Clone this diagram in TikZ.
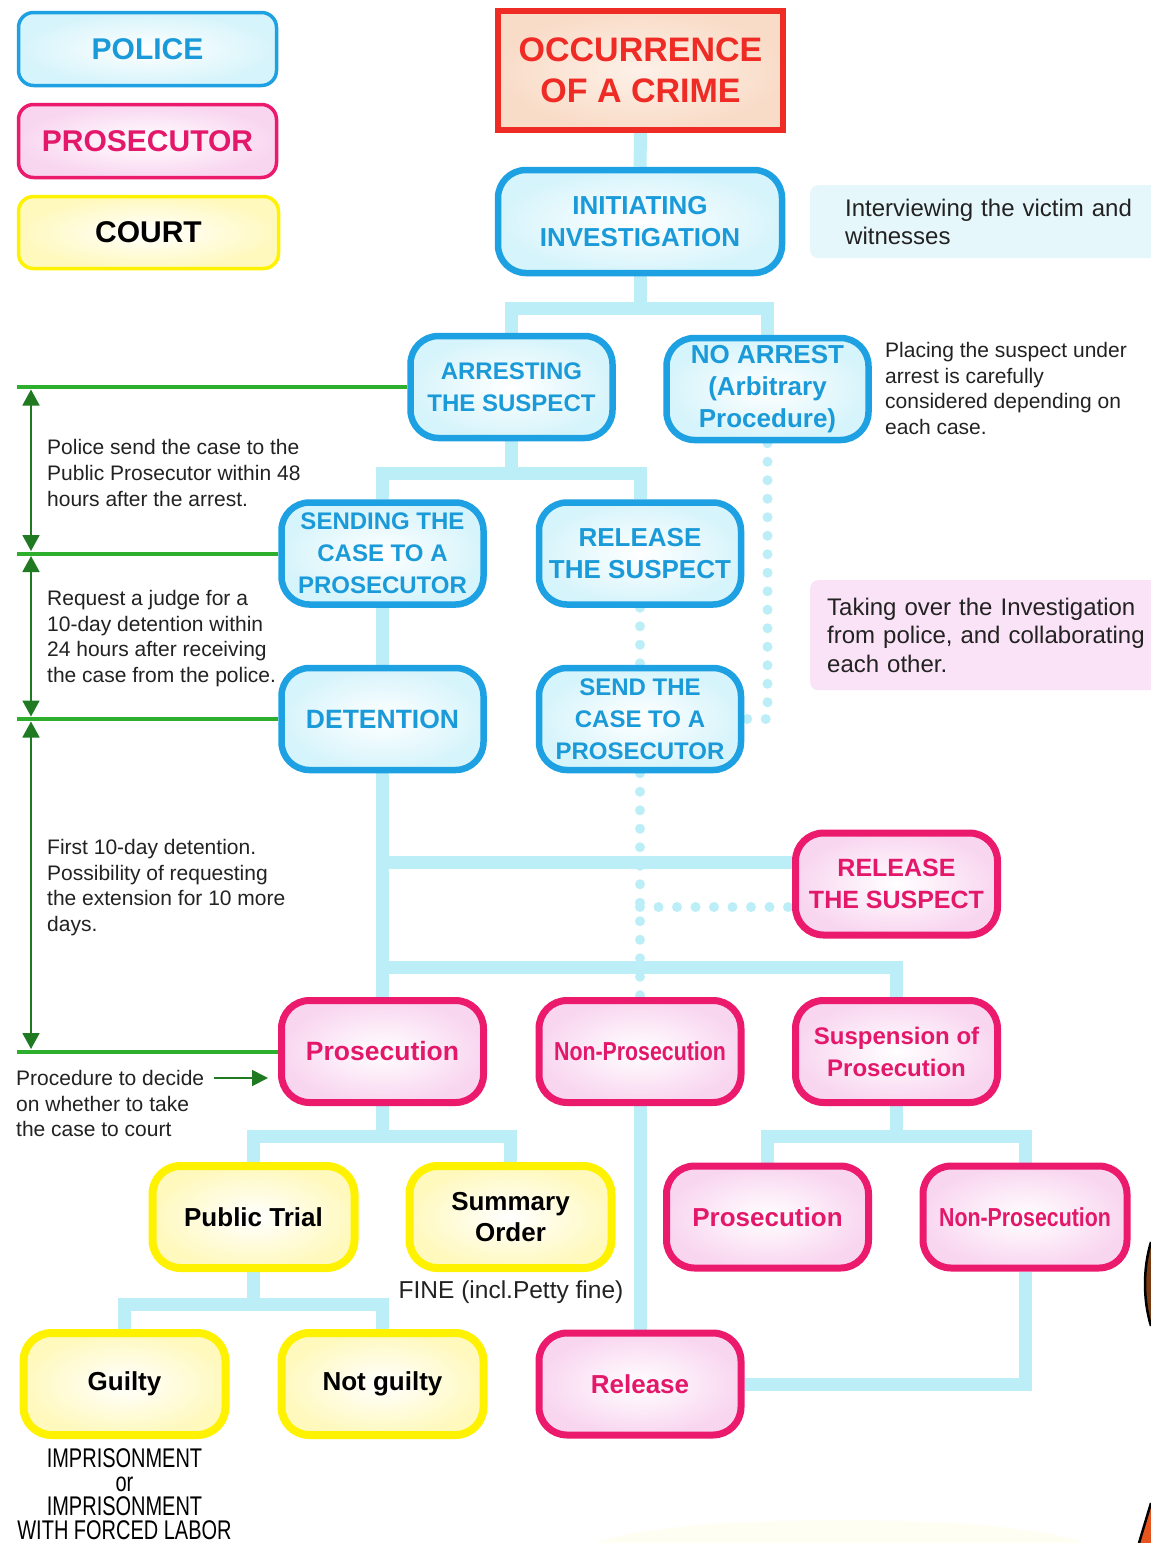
\documentclass[tikz,border=0pt]{standalone}
\usepackage{fontspec}
\setmainfont{Liberation Sans}
\newfontfamily\narrowfont[FakeStretch=0.74]{Liberation Sans}
\newfontfamily\semiNarrowfont[FakeStretch=0.82]{Liberation Sans}
\usetikzlibrary{arrows.meta,backgrounds}
\definecolor{polblue}{HTML}{1DA1E2}
\definecolor{poltext}{HTML}{1A9AD8}
\definecolor{polfill}{HTML}{D6F4FB}
\definecolor{prosborder}{HTML}{EC1A6C}
\definecolor{prostext}{HTML}{E3186B}
\definecolor{prosfill}{HTML}{F9D6F0}
\definecolor{courtborder}{HTML}{FFF200}
\definecolor{courtfill}{HTML}{FFF9BE}
\definecolor{linkcyan}{HTML}{BCEEF8}
\definecolor{barGreen}{HTML}{2DAF2D}
\definecolor{darkGreen}{HTML}{1F7A22}
\definecolor{crimered}{HTML}{EE2B24}
\definecolor{crimefill}{HTML}{F9DCC8}
\definecolor{crimeinner}{HTML}{FDF1E8}
\definecolor{notecyan}{HTML}{E6F7FC}
\definecolor{notepink}{HTML}{FBE3F7}
\definecolor{remarktext}{HTML}{222222}
\definecolor{edgefill}{HTML}{7A3A12}
\definecolor{edgeorange}{HTML}{E8541E}
\tikzset{
  box/.style={rectangle, rounded corners=28pt, minimum width=202pt, minimum height=102pt,
    inner sep=0pt, align=center, font=\fontsize{26}{32}\selectfont\bfseries},
  policebox/.style={box, draw=polblue, line width=6.5pt, inner color=white, outer color=polfill, text=poltext},
  prosbox/.style={box, draw=prosborder, line width=7pt, inner color=white, outer color=prosfill, text=prostext},
  courtbox/.style={box, draw=courtborder, line width=8pt, inner color=white, outer color=courtfill, text=black},
  legendbox/.style={rectangle, rounded corners=15pt, minimum width=258pt, minimum height=73pt,
    inner sep=0pt, line width=3.5pt, font=\fontsize{30}{36}\selectfont\bfseries},
  notebox/.style={rectangle, rounded corners=8pt, anchor=north west, inner ysep=0pt,
    align=left, font=\fontsize{24}{28.5}\selectfont, text=remarktext},
  link/.style={draw=linkcyan, line width=13pt},
  dotlink/.style={draw=linkcyan, line width=10pt, line cap=round, dash pattern=on 0pt off 18.5pt},
  greenbar/.style={draw=barGreen, line width=4pt},
  timespan/.style={draw=darkGreen, line width=1.8pt,
    {Triangle[width=17pt,length=16pt]}-{Triangle[width=17pt,length=16pt]},
    shorten <=2.5pt, shorten >=2.5pt},
  procarrow/.style={draw=darkGreen, line width=1.8pt, -{Triangle[width=16pt,length=16pt]}, shorten >=10pt},
  remark/.style={inner sep=0pt, anchor=north west, align=left,
    font=\fontsize{21}{25.6}\selectfont, text=remarktext},
}
\begin{document}
\begin{tikzpicture}[x=1pt,y=-1pt]
\useasboundingbox (0,0) rectangle (1151,1543);

% ---------- legend ----------
\node[legendbox, draw=polblue, inner color=white, outer color=polfill, text=poltext] (legpol) at (147.5,49) {POLICE};
\node[legendbox, draw=prosborder, inner color=white, outer color=prosfill, text=prostext] (legpros) at (147.5,141) {PROSECUTOR};
\node[legendbox, draw=courtborder, inner color=white, outer color=courtfill, text=black,
      minimum width=260pt, minimum height=72pt] (legcourt) at (148.5,232.5) {COURT};

% ---------- top ----------
\node[rectangle, draw=crimered, line width=6pt, inner color=crimeinner, outer color=crimefill,
      minimum width=285pt, minimum height=119pt, inner sep=0pt, align=center, text=crimered,
      font=\fontsize{34}{41}\selectfont\bfseries] (occ) at (640.5,70.5) {OCCURRENCE\\OF A CRIME};
\node[policebox, minimum width=284pt, minimum height=103pt] (init) at (640,221.5) {INITIATING\\INVESTIGATION};
\node[notebox, fill=notecyan, inner xsep=35pt, text width=320pt, minimum height=73pt] (intnote) at (810,185)
      {Interviewing the victim and\\witnesses};

% ---------- police stage ----------
\node[policebox, font=\fontsize{24}{32}\selectfont\bfseries] (arrest) at (511.5,387) {ARRESTING\\THE SUSPECT};
\node[policebox] (noarrest) at (767.5,389) {NO ARREST\\(Arbitrary\\Procedure)};
\node[remark] (placing) at (885,342) {Placing the suspect under\\arrest is carefully\\considered depending on\\each case.};

\node[policebox, font=\fontsize{24}{32}\selectfont\bfseries] (send1) at (382.5,553.5) {SENDING THE\\CASE TO A\\PROSECUTOR};
\node[policebox] (rel1) at (640,553.5) {RELEASE\\THE SUSPECT};
\node[policebox, font=\fontsize{26.5}{32}\selectfont\bfseries] (det) at (382.5,719) {DETENTION};
\node[policebox, font=\fontsize{24}{32}\selectfont\bfseries] (send2) at (640,719) {SEND THE\\CASE TO A\\PROSECUTOR};
\node[notebox, fill=notepink, inner xsep=17pt, text width=340pt, minimum height=110pt] (takenote) at (810,580)
      {Taking over the Investigation\\from police, and collaborating\\each other.};

% ---------- prosecutor stage ----------
\node[prosbox, font=\fontsize{25}{32}\selectfont\bfseries] (rel2) at (896.5,884) {RELEASE\\THE SUSPECT};
\node[prosbox, font=\fontsize{26.5}{32}\selectfont\bfseries] (pros) at (382.5,1051.5) {Prosecution};
\node[prosbox, font=\semiNarrowfont\fontsize{26}{32}\selectfont\bfseries] (nonpros) at (640,1051.5) {Non-Prosecution};
\node[prosbox, font=\fontsize{24}{32}\selectfont\bfseries] (susp) at (896.5,1051.5) {Suspension of\\Prosecution};

% ---------- court stage ----------
\node[courtbox] (trial) at (253.5,1217) {Public Trial};
\node[courtbox, font=\fontsize{26}{31}\selectfont\bfseries] (summ) at (510.5,1217) {Summary\\Order};
\node[font=\fontsize{24.5}{28}\selectfont, inner sep=0pt, text=remarktext] (fine) at (511,1292) {FINE (incl.Petty fine)};
\node[prosbox] (pros2) at (767.5,1217) {Prosecution};
\node[prosbox, font=\semiNarrowfont\fontsize{26}{32}\selectfont\bfseries, minimum width=204pt] (nonpros2) at (1025,1217) {Non-Prosecution};
\node[courtbox] (guilty) at (124.5,1384) {Guilty};
\node[courtbox] (notg) at (382.5,1384) {Not guilty};
\node[prosbox] (release) at (640,1384) {Release};
\node[font=\narrowfont\fontsize{27}{24}\selectfont, align=center, inner sep=0pt, text=black] (penalty) at (124.5,1494)
      {IMPRISONMENT\\or\\IMPRISONMENT\\WITH FORCED LABOR};

% ---------- time remarks ----------
\node[remark] (rem48) at (47,439.5) {Police send the case to the\\Public Prosecutor within 48\\hours after the arrest.};
\node[remark] (rem24) at (47,590) {Request a judge for a\\10-day detention within\\24 hours after receiving\\the case from the police.};
\node[remark] (rem10) at (47,839) {First 10-day detention.\\Possibility of requesting\\the extension for 10 more\\days.};
\node[remark] (remproc) at (16,1070) {Procedure to decide\\on whether to take\\the case to court};

\coordinate (axis) at (31,0);
\coordinate (rail) at (17,0);
\coordinate (procstart) at (214,1078);
\coordinate (yA) at (0,862);
\coordinate (yB) at (0,967);
\coordinate (yC) at (0,907);

% ---------- fragments of an illustration cut by the right edge ----------
\fill[edgefill] (1151,1242) .. controls (1143,1268) and (1143,1300) .. (1151,1326) -- cycle;
\draw[line width=2.5pt, black] (1151,1242) .. controls (1143,1268) and (1143,1300) .. (1151,1326);
\fill[edgeorange] (1151,1503) -- (1139,1543) -- (1151,1543) -- cycle;
\draw[line width=2.5pt, black] (1151,1503) -- (1139,1543);

\begin{pgfonlayer}{background}
  \fill[white] (0,0) rectangle (1151,1543);
  \fill[yellow!5] (840,1550) ellipse [x radius=250, y radius=30];
  % solid links
  \draw[link] (occ.south) -- (init.north);
  \draw[link] (init.south) -- ++(0,32) coordinate (j1) -| (arrest.north);
  \draw[link] (j1) -| (noarrest.north);
  \draw[link] (arrest.south) -- ++(0,32) coordinate (j2) -| (send1.north);
  \draw[link] (j2) -| (rel1.north);
  \draw[link] (send1.south) -- (det.north);
  \draw[link] (det.south) -- (pros.north);
  \draw[link] (det.south |- yA) -- (rel2.west |- yA);
  \draw[link] (det.south |- yB) -| (susp.north);
  \draw[link] (pros.south) -- ++(0,30) coordinate (j3) -| (trial.north);
  \draw[link] (j3) -| (summ.north);
  \draw[link] (trial.south) -- ++(0,32) coordinate (j4) -| (guilty.north);
  \draw[link] (j4) -| (notg.north);
  \draw[link] (nonpros.south) -- (release.north);
  \draw[link] (susp.south) -- ++(0,30.5) coordinate (j5) -| (pros2.north);
  \draw[link] (j5) -| (nonpros2.north);
  \draw[link] (nonpros2.south) |- (release.east);
  % dotted links
  \draw[dotlink] (rel1.south) -- (send2.north);
  \draw[dotlink] (noarrest.south) |- (send2.east);
  \draw[dotlink] (send2.south) -- (nonpros.north);
  \draw[dotlink] (send2.south |- yC) -- (rel2.west |- yC);
  % green time bars
  \draw[greenbar] (arrest.west) -- (arrest.west -| rail);
  \draw[greenbar] (send1.west) -- (send1.west -| rail);
  \draw[greenbar] (det.west) -- (det.west -| rail);
  \draw[greenbar] (pros.west) -- (pros.west -| rail);
\end{pgfonlayer}

% time spans
\draw[timespan] (arrest.west -| axis) -- (send1.west -| axis);
\draw[timespan] (send1.west -| axis) -- (det.west -| axis);
\draw[timespan] (det.west -| axis) -- (pros.west -| axis);
\draw[procarrow] (procstart) -- (procstart -| pros.west);
\end{tikzpicture}
\end{document}
